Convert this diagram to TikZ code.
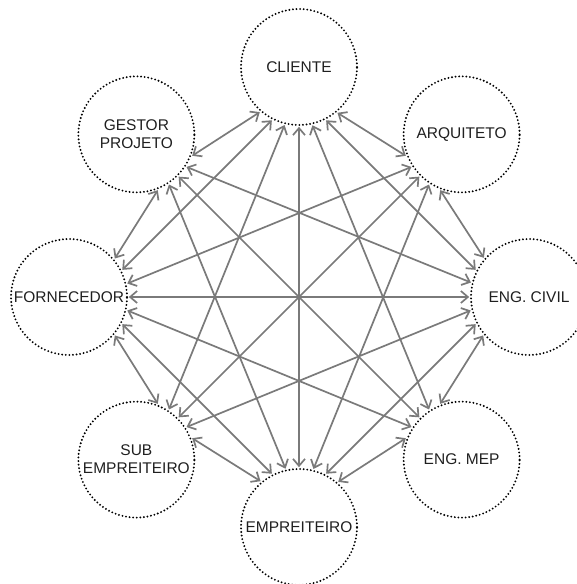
\documentclass[tikz,border=0pt]{standalone}
\usepackage{fontspec}
\setmainfont{Liberation Sans}
\usetikzlibrary{arrows.meta}
\begin{document}
\begin{tikzpicture}[
  party/.style={circle, minimum size=116pt, inner sep=0pt, outer sep=1.8pt, align=center,
    draw=black, line width=2.1pt, line cap=round, dash pattern=on 0pt off 3.6pt,
    font=\fontsize{15.5}{18}\selectfont, text=black!88},
  conn/.style={draw=black!52, line width=1.7pt,
    {Straight Barb[length=7pt,width=12pt]}-{Straight Barb[length=7pt,width=12pt]}}
]
\useasboundingbox (0,0) rectangle (576pt,584pt);
% parties on an octagon, numbered clockwise from the top
\begin{scope}[shift={(299pt,287pt)}]
  \node[party] (n0) at (90:230pt)   {CLIENTE};
  \node[party] (n1) at (45:230pt)   {ARQUITETO};
  \node[party] (n2) at (0:230pt)    {ENG. CIVIL};
  \node[party] (n3) at (-45:230pt)  {ENG. MEP};
  \node[party] (n4) at (-90:230pt)  {EMPREITEIRO};
  \node[party] (n5) at (-135:230pt) {SUB\\EMPREITEIRO};
  \node[party] (n6) at (180:230pt)  {FORNECEDOR};
  \node[party] (n7) at (135:230pt)  {GESTOR\\PROJETO};
\end{scope}
% links: every pair, except neighbouring diagonal parties;
% each party fans its link ends around the side facing the middle
\foreach \i in {0,...,6}{
  \pgfmathtruncatemacro\s{\i+1}
  \foreach \j in {\s,...,7}{
    \pgfmathtruncatemacro\k{mod(\i-\j+16,8)}% steps counter-clockwise from i to j
    \pgfmathtruncatemacro\kk{8-\k}%          steps counter-clockwise from j to i
    \pgfmathtruncatemacro\skip{(mod(\i,2)==1)&&(mod(\j,2)==1)&&((\k==2)||(\k==6))}
    \ifnum\skip=0
      \pgfmathsetmacro\ai{270-45*\i+ifthenelse(mod(\i,2)==0,(\k-4)*13.5,
        ifthenelse(\k==1,-24,ifthenelse(\k==7,24,(\k-4)*12)))}
      \pgfmathsetmacro\aj{270-45*\j+ifthenelse(mod(\j,2)==0,(\kk-4)*13.5,
        ifthenelse(\kk==1,-24,ifthenelse(\kk==7,24,(\kk-4)*12)))}
      \draw[conn] (n\i.\ai) -- (n\j.\aj);
    \fi
  }
}
\end{tikzpicture}
\end{document}
